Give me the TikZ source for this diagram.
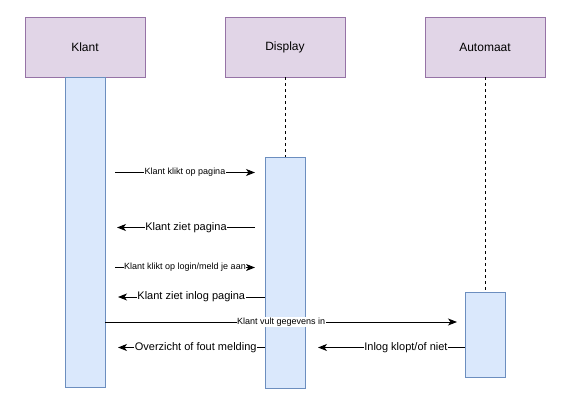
\documentclass[tikz,border=0pt]{standalone}
\usepackage{fontspec}
\setmainfont{Liberation Sans}
\usetikzlibrary{arrows.meta}
\definecolor{purfill}{HTML}{E1D5E7}
\definecolor{purline}{HTML}{9673A6}
\definecolor{bluefill}{HTML}{DAE8FC}
\definecolor{blueline}{HTML}{6C8EBF}
\tikzset{
  actorbox/.style={draw=purline, fill=purfill, line width=0.9pt, minimum width=120pt, minimum height=60pt, inner sep=0pt, font=\fontsize{12}{14}\selectfont},
  actbar/.style={draw=blueline, fill=bluefill, line width=0.9pt, minimum width=40pt, inner sep=0pt},
  lifeline/.style={draw=black, line width=0.8pt, dash pattern=on 3pt off 3pt},
  msg/.style={draw=black, line width=0.9pt, -{Stealth[length=9pt,width=7pt,inset=2.5pt]}},
  lblsmall/.style={fill=white, inner sep=0.5pt, font=\fontsize{9}{10}\selectfont},
  lblbig/.style={fill=white, inner sep=0.5pt, font=\fontsize{11}{12}\selectfont}
}
\begin{document}
\begin{tikzpicture}[x=1pt,y=-1pt]
\useasboundingbox[fill=white] (0,0) rectangle (574,403);
% actors
\node[actorbox] (klant) at (85,47) {Klant};
\node[actorbox] (display) at (285,47) {Display};
\node[actorbox] (automaat) at (485,47) {Automaat};
% activation bars
\node[actbar, minimum height=310pt] (klantact) at (85,232) {};
\node[actbar, minimum height=231pt] (dispact) at (285,272.5) {};
\node[actbar, minimum height=85pt] (autoact) at (485,334.5) {};
% lifelines
\draw[lifeline] (display.south) -- (dispact.north);
\draw[lifeline] (automaat.south) -- (autoact.north);
% message end points
\coordinate (m1s) at (115,172.5); \coordinate (m1e) at (255,172.5);
\coordinate (m2s) at (255,227.5); \coordinate (m2e) at (117,227.5);
\coordinate (m3s) at (115,267.5); \coordinate (m3e) at (255,267.5);
\coordinate (m4e) at (118,297);
\coordinate (m5e) at (457,322);
\coordinate (m6e) at (118,347.5);
\coordinate (m7e) at (318,347.5);
% messages
\draw[msg] (m1s) -- node[lblsmall] {Klant klikt op pagina} (m1e);
\draw[msg] (m2s) -- node[lblbig] {Klant ziet pagina} (m2e);
\draw[msg] (m3s) -- node[lblsmall] {Klant klikt op login/meld je aan} (m3e);
\draw[msg] (dispact.west |- m4e) -- node[lblbig] {Klant ziet inlog pagina} (m4e);
\draw[msg] (klantact.east |- m5e) -- node[lblsmall] {Klant vult gegevens in} (m5e);
\draw[msg] (dispact.west |- m6e) -- node[lblbig, pos=0.47] {Overzicht of fout melding} (m6e);
\draw[msg] (autoact.west |- m7e) -- node[lblbig, pos=0.4] {Inlog klopt/of niet} (m7e);
\end{tikzpicture}
\end{document}
